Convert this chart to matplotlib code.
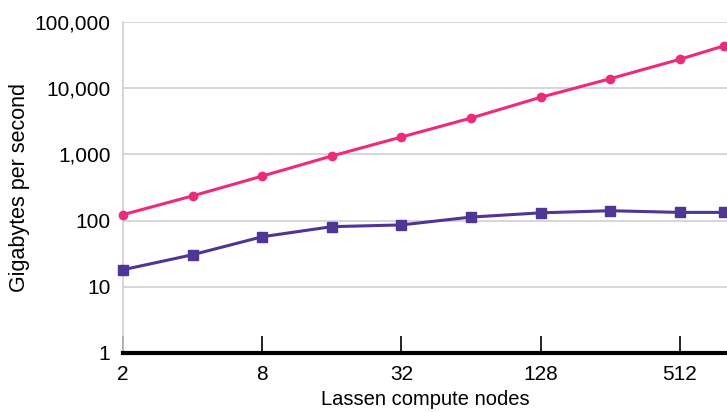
import matplotlib.pyplot as plt
import matplotlib.ticker as mticker
import numpy as np

plt.rcParams['font.family'] = ['Liberation Sans', 'DejaVu Sans']

nodes = [2, 4, 8, 16, 32, 64, 128, 256, 512, 792]
pink_gbs = [123, 236, 470, 946, 1830, 3540, 7280, 13900, 27300, 43400]
purple_gbs = [18.1, 30.5, 57, 81, 86, 113, 131, 141, 133, 133]

xticks = [2, 8, 32, 128, 512]
yticks = [1, 10, 100, 1000, 10000, 100000]

fig = plt.figure(figsize=(7.27, 4.12), dpi=100)
ax = fig.add_axes([123/727, 59/412, 1 - 123/727, 331/412])

ax.plot(nodes, pink_gbs, color='#ee2a7b', lw=2.2, marker='o', ms=6, zorder=3, clip_on=False)
ax.plot(nodes, purple_gbs, color='#4e3596', lw=2.2, marker='s', ms=7, zorder=3, clip_on=False)

ax.set_xscale('log', base=2)
ax.set_yscale('log')
ax.set_xlim(2, 820)
ax.set_ylim(1, 100000)

ax.set_xticks(xticks)
ax.xaxis.set_major_formatter(mticker.FuncFormatter(lambda v, p: f'{int(v)}'))
ax.xaxis.set_minor_locator(mticker.NullLocator())
ax.set_yticks(yticks)
ax.yaxis.set_major_formatter(mticker.FuncFormatter(lambda v, p: f'{int(v):,}'))
ax.yaxis.set_minor_locator(mticker.NullLocator())

ax.tick_params(axis='x', direction='in', length=12, width=1.2, labelsize=15, pad=9)
ax.tick_params(axis='y', length=0, labelsize=15, pad=9)

ax.grid(axis='y', color='#d0d0d0', lw=1.2)
ax.set_axisbelow(True)
for s in ['top', 'right']:
    ax.spines[s].set_visible(False)
ax.spines['left'].set_color('#d0d0d0')
ax.spines['left'].set_linewidth(1.2)
ax.spines['bottom'].set_color('black')
ax.spines['bottom'].set_linewidth(3)
ax.spines['bottom'].set_zorder(4)

ax.set_xlabel('Lassen compute nodes', fontsize=14.5, labelpad=4)
ax.set_ylabel('Gigabytes per second', fontsize=15.5, labelpad=3)

fig.savefig('out.png', dpi=100)
